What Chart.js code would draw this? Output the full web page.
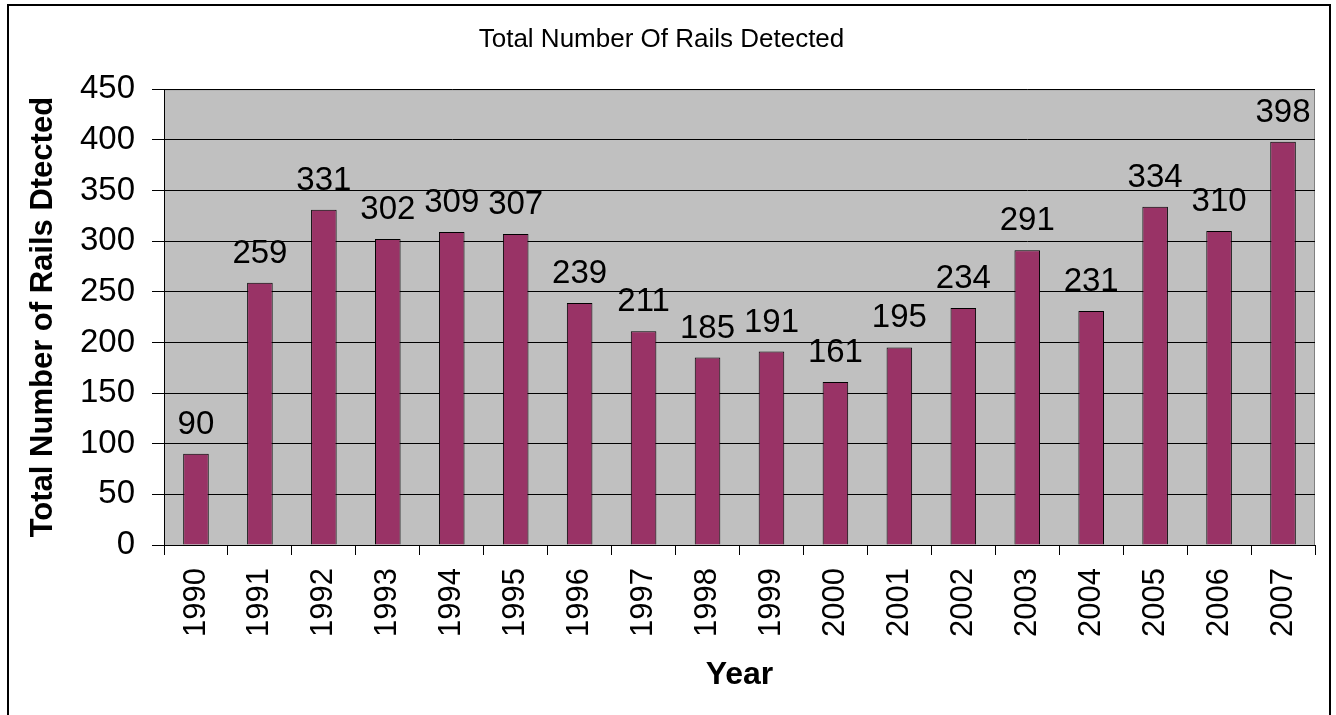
<!DOCTYPE html>
<html>
<head>
<meta charset="utf-8">
<script src="https://cdn.jsdelivr.net/npm/chart.js@4/dist/chart.umd.min.js"></script>
<style>
  html, body { margin: 0; padding: 0; background: #fff; }
  #railCanvas { display: block; }
</style>
</head>
<body>
<canvas id="railCanvas" width="1336" height="715"></canvas>
<script>
// data
const years = ["1990", "1991", "1992", "1993", "1994", "1995", "1996", "1997", "1998",
               "1999", "2000", "2001", "2002", "2003", "2004", "2005", "2006", "2007"];
const railCounts = [90, 259, 331, 302, 309, 307, 239, 211, 185, 191, 161, 195, 234, 291, 231, 334, 310, 398];
const yTicksMax = 450;
const yTicksStep = 50;

const FONT = "'Liberation Sans', Arial, sans-serif";

// frame round the whole chart + grey plot area
const framePlugin = {
    id: "frame",
    beforeDraw(chart) {
        const ctx = chart.ctx;
        const a = chart.chartArea;
        ctx.save();
        ctx.fillStyle = "#ffffff";
        ctx.fillRect(0, 0, chart.width, chart.height);
        ctx.strokeStyle = "#000000";
        ctx.lineWidth = 2;
        ctx.strokeRect(8, 5, 1322, 730);
        ctx.fillStyle = "#c0c0c0";
        ctx.fillRect(a.left, a.top, a.right - a.left, a.bottom - a.top);
        ctx.strokeStyle = "#808080";
        ctx.lineWidth = 1;
        ctx.strokeRect(a.left + 0.5, a.top + 0.5, a.right - a.left - 1, a.bottom - a.top);
        ctx.restore();
    }
};

// value labels above bars
const valueLabels = {
    id: "valueLabels",
    afterDatasetsDraw(chart) {
        const ctx = chart.ctx;
        const meta = chart.getDatasetMeta(0);
        ctx.save();
        ctx.font = "33px " + FONT;
        ctx.fillStyle = "#000000";
        ctx.textAlign = "center";
        ctx.textBaseline = "alphabetic";
        meta.data.forEach((bar, i) => {
            ctx.fillText(String(railCounts[i]), bar.x, bar.y - 20);
        });
        ctx.restore();
    }
};

const railChart = new Chart(document.getElementById("railCanvas"), {
    type: "bar",
    data: {
        labels: years,
        datasets: [{
            label: "Rails",
            data: railCounts,
            backgroundColor: "#993366",
            borderColor: "#000000",
            borderWidth: 1,
            barPercentage: 0.4,
            categoryPercentage: 1.0
        }]
    },
    options: {
        responsive: false,
        devicePixelRatio: 1,
        animation: false,
        layout: {
            padding: { left: 8, top: 5, right: 21, bottom: 0 }
        },
        plugins: {
            legend: { display: false },
            tooltip: { enabled: false },
            title: {
                display: true,
                text: "Total Number Of Rails Detected",
                color: "#000000",
                font: { family: FONT, size: 26, weight: "normal" },
                padding: { top: 19, bottom: 34 }
            }
        },
        scales: {
            x: {
                offset: true,
                grid: {
                    display: true,
                    drawOnChartArea: false,
                    drawTicks: true,
                    tickLength: 10,
                    tickColor: "#000000",
                    offset: true
                },
                border: { display: true, color: "#000000", width: 1 },
                ticks: {
                    color: "#000000",
                    font: { family: FONT, size: 31 },
                    minRotation: 90,
                    maxRotation: 90,
                    autoSkip: false,
                    padding: 13
                },
                title: {
                    display: true,
                    text: "Year",
                    color: "#000000",
                    font: { family: FONT, size: 32, weight: "bold" },
                    padding: { top: 0, bottom: 21 }
                },
                afterFit(scale) { scale.height = 170; }
            },
            y: {
                min: 0,
                max: yTicksMax,
                grid: {
                    color: "#000000",
                    lineWidth: 1,
                    drawTicks: true,
                    tickLength: 12,
                    tickColor: "#000000"
                },
                border: { display: true, color: "#000000", width: 1 },
                ticks: {
                    stepSize: yTicksStep,
                    color: "#000000",
                    font: { family: FONT, size: 33 },
                    padding: 17
                },
                title: {
                    display: true,
                    text: "Total Number of Rails Dtected",
                    color: "#000000",
                    font: { family: FONT, size: 31, weight: "bold" },
                    padding: { top: 17, bottom: 0 }
                },
                afterFit(scale) { scale.width = 156; }
            }
        }
    },
    plugins: [framePlugin, valueLabels]
});
</script>
</body>
</html>
